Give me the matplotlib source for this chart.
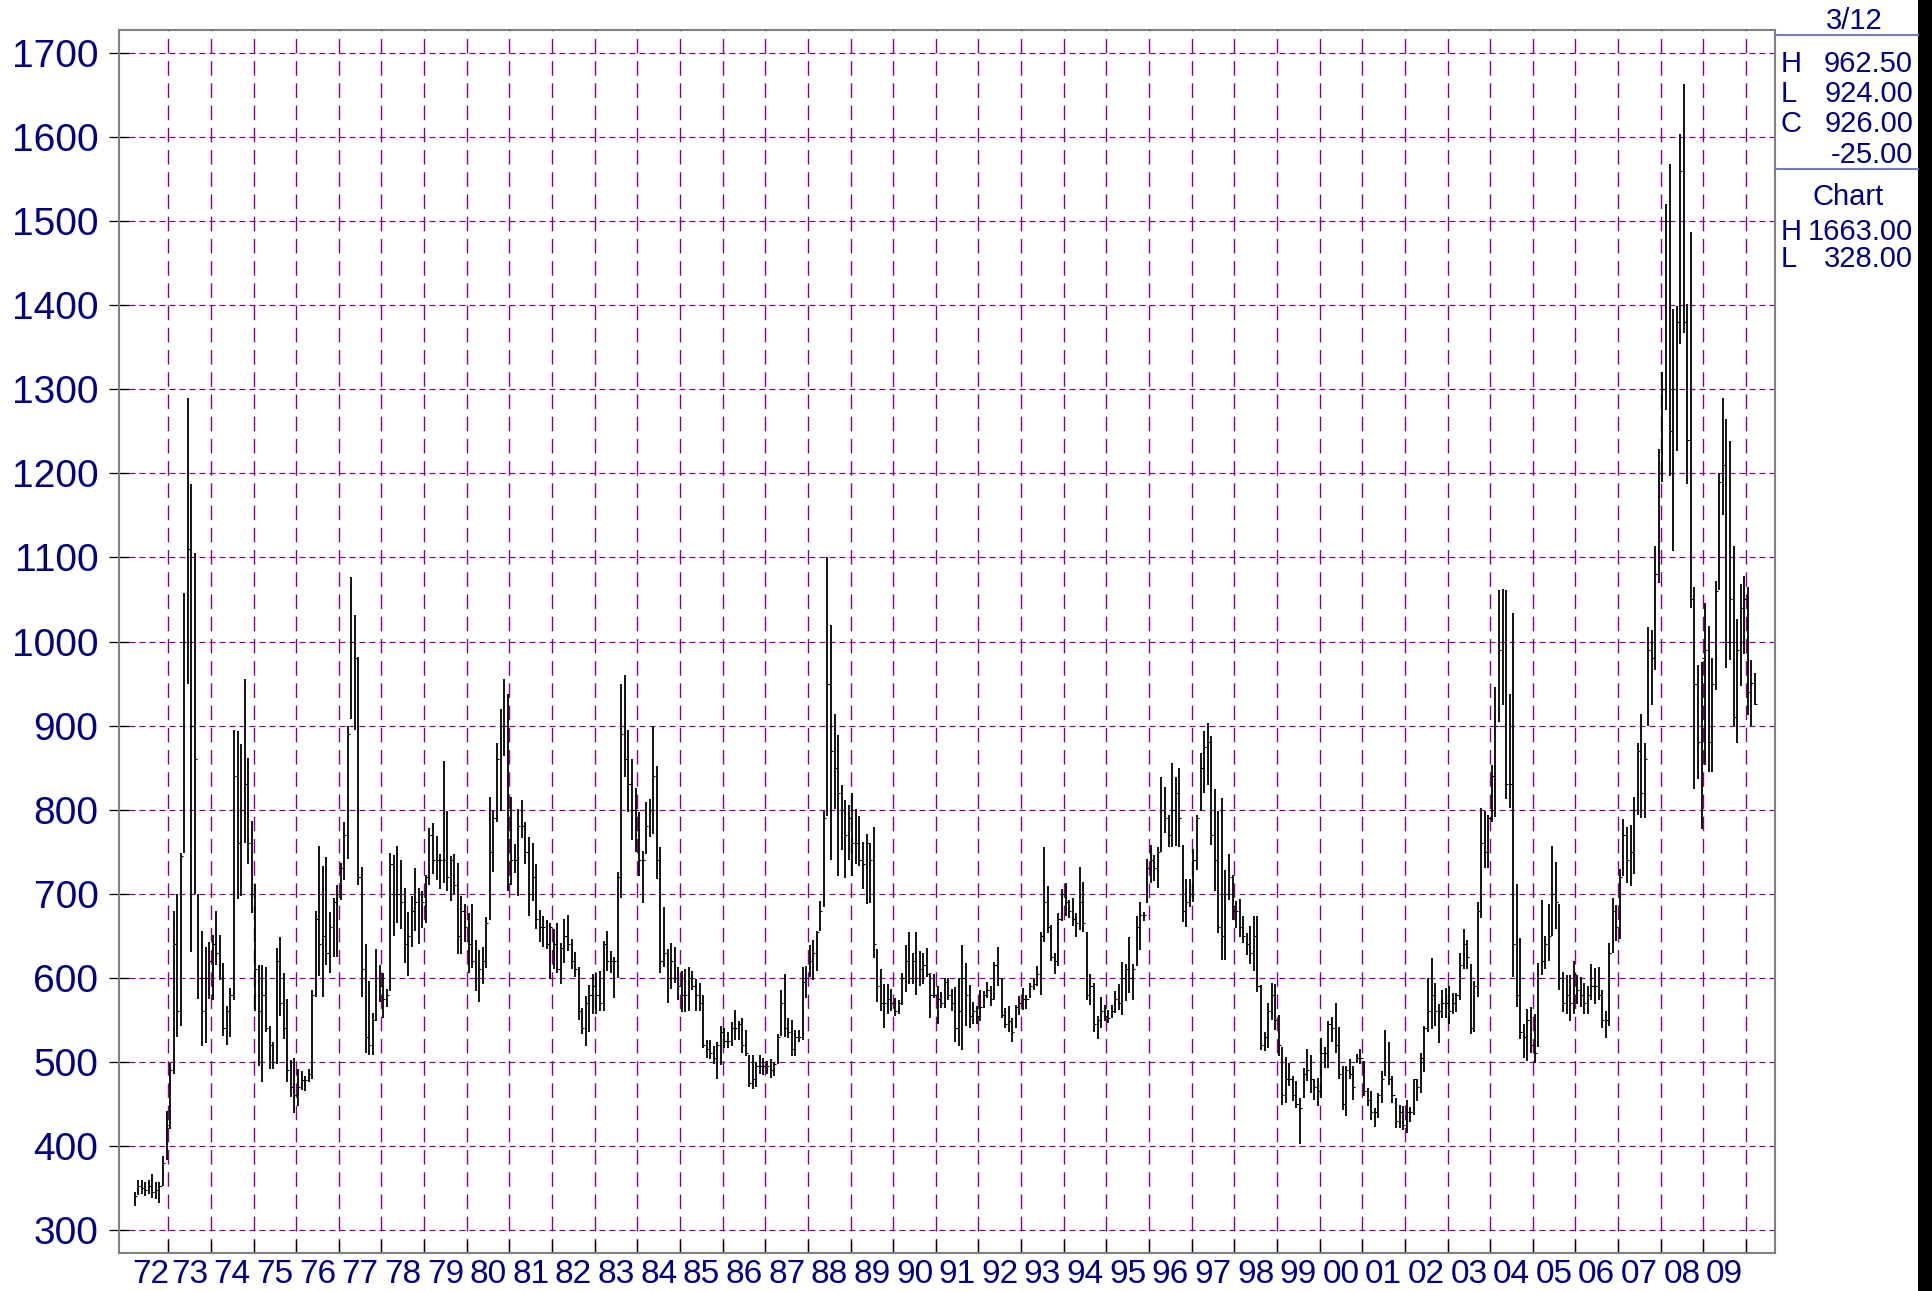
import pandas as pd
import matplotlib
matplotlib.use('Agg')
import matplotlib.pyplot as plt
from matplotlib.patches import Rectangle
from matplotlib.ticker import FixedLocator, FixedFormatter, NullFormatter

plt.rcParams['font.family'] = ['Liberation Sans', 'DejaVu Sans']
plt.rcParams['lines.scale_dashes'] = False

W, H, DPI = 1932, 1291, 100
NAVY = '#000080'
GRID = '#880088'

# Monthly soybean bars, Mar 1972 - Mar 2010, one row per year (cents/bu)
high = [
    345, 360, 359, 357, 359, 367, 357, 357, 388, 442,                      # 72 (Mar-Dec)
    499, 680, 700, 749, 1058, 1290, 1187, 1105, 700, 656, 637, 643,        # 73
    651, 679, 651, 617, 566, 588, 895, 893, 878, 955, 861, 787,            # 74
    711, 615, 615, 613, 543, 524, 635, 648, 606, 575, 502, 505,            # 75
    492, 489, 483, 492, 586, 679, 757, 733, 744, 678, 695, 710,            # 76
    736, 785, 899, 1077, 1031, 981, 732, 640, 596, 558, 634, 615,          # 77
    606, 587, 748, 746, 757, 740, 707, 678, 697, 730, 707, 703,            # 78
    722, 778, 784, 769, 747, 858, 798, 745, 747, 736, 697, 688,            # 79
    677, 688, 645, 633, 637, 672, 815, 798, 879, 920, 955, 938,            # 80
    815, 759, 801, 812, 785, 768, 760, 735, 681, 674, 669, 665,            # 81
    658, 665, 641, 670, 675, 646, 631, 613, 564, 578, 591, 604,            # 82
    606, 608, 644, 656, 632, 625, 726, 949, 960, 895, 860, 826,            # 83
    797, 751, 809, 813, 899, 852, 755, 684, 634, 641, 637, 613,            # 84
    608, 611, 613, 608, 599, 594, 580, 526, 526, 519, 524, 543,            # 85
    540, 536, 547, 562, 548, 552, 538, 508, 508, 500, 508, 505,            # 86
    501, 503, 500, 533, 585, 604, 552, 550, 538, 538, 613, 614,            # 87
    639, 645, 656, 691, 798, 1100, 1020, 914, 889, 829, 811, 805,          # 88
    820, 801, 792, 761, 771, 760, 779, 634, 611, 592, 592, 587,            # 89
    576, 573, 606, 639, 654, 630, 654, 632, 630, 636, 606, 604,            # 90
    590, 583, 600, 600, 587, 589, 600, 639, 617, 591, 571, 566,            # 91
    586, 584, 595, 590, 619, 637, 600, 564, 567, 552, 568, 578,            # 92
    588, 579, 594, 598, 614, 654, 755, 709, 663, 629, 677, 706,            # 93
    713, 693, 695, 677, 732, 714, 655, 604, 594, 555, 577, 568,            # 94
    562, 568, 584, 592, 619, 616, 648, 616, 673, 690, 678, 741,            # 95
    758, 746, 756, 839, 827, 794, 855, 839, 849, 758, 717, 717,            # 96
    753, 794, 867, 893, 903, 887, 824, 798, 814, 728, 747, 722,            # 97
    691, 694, 673, 653, 661, 673, 673, 591, 535, 570, 594, 592,            # 98
    556, 518, 506, 499, 483, 477, 457, 493, 515, 508, 479, 481,            # 99
    528, 518, 548, 553, 570, 542, 495, 495, 503, 495, 509, 515,            # 00
    501, 469, 465, 445, 463, 489, 538, 524, 483, 457, 449, 447,            # 01
    455, 446, 480, 480, 511, 543, 600, 624, 594, 569, 586, 588,            # 02
    590, 582, 582, 630, 658, 645, 616, 596, 690, 802, 798, 794,            # 03
    853, 946, 1061, 1063, 1061, 938, 1034, 711, 647, 545, 563, 565,        # 04
    557, 618, 692, 650, 688, 757, 738, 688, 607, 603, 603, 620,            # 05
    603, 601, 594, 590, 616, 612, 613, 586, 560, 641, 695, 687,            # 06
    729, 789, 779, 782, 815, 879, 914, 879, 1017, 1014, 1114, 1229,        # 07
    1320, 1521, 1568, 1396, 1399, 1604, 1663, 1402, 1487, 1065, 972, 976,  # 08
    1046, 1019, 980, 1072, 1201, 1290, 1265, 1239, 1114, 1027, 1068, 1078, # 09
    1065, 978, 962.5,                                                      # 10 (Jan-Mar)
]
low = [
    328, 341, 343, 340, 343, 338, 337, 332, 352, 383,
    420, 486, 530, 543, 749, 950, 631, 700, 575, 519, 522, 575,
    573, 615, 597, 531, 520, 530, 573, 694, 697, 760, 735, 677,
    561, 495, 476, 536, 492, 491, 498, 555, 527, 476, 458, 439,
    448, 467, 465, 476, 480, 577, 602, 577, 615, 606, 625, 625,
    692, 716, 741, 908, 895, 710, 577, 511, 508, 508, 549, 571,
    552, 565, 584, 650, 665, 658, 618, 602, 637, 656, 640, 659,
    665, 710, 723, 716, 706, 713, 703, 691, 700, 628, 628, 643,
    606, 612, 584, 571, 593, 612, 669, 726, 785, 798, 864, 703,
    710, 725, 697, 766, 735, 674, 691, 658, 643, 637, 634, 599,
    611, 606, 592, 618, 632, 611, 601, 550, 533, 519, 536, 557,
    557, 561, 561, 608, 606, 576, 600, 695, 839, 797, 764, 750,
    721, 689, 747, 768, 771, 717, 606, 613, 570, 587, 594, 573,
    559, 559, 561, 585, 561, 561, 516, 505, 503, 498, 479, 496,
    517, 517, 519, 526, 526, 510, 507, 470, 468, 470, 486, 484,
    486, 481, 483, 498, 531, 530, 528, 507, 507, 524, 526, 576,
    601, 597, 608, 656, 684, 792, 740, 801, 721, 752, 719, 740,
    721, 735, 733, 705, 688, 689, 624, 571, 561, 540, 557, 561,
    554, 557, 568, 583, 592, 592, 580, 590, 592, 601, 552, 576,
    545, 564, 564, 573, 561, 524, 519, 514, 543, 540, 545, 545,
    548, 564, 576, 566, 574, 590, 552, 540, 536, 524, 540, 556,
    562, 563, 576, 586, 590, 580, 642, 653, 620, 604, 614, 667,
    673, 671, 661, 649, 657, 655, 574, 568, 536, 527, 540, 548,
    546, 552, 558, 562, 556, 572, 582, 574, 614, 633, 667, 689,
    713, 715, 707, 750, 772, 756, 756, 757, 756, 666, 660, 684,
    690, 728, 798, 820, 829, 758, 703, 653, 621, 621, 692, 669,
    659, 649, 641, 627, 616, 608, 583, 514, 513, 516, 550, 538,
    507, 449, 451, 471, 453, 445, 402, 457, 477, 463, 455, 447,
    457, 493, 493, 524, 511, 479, 443, 435, 479, 455, 499, 497,
    459, 447, 431, 423, 433, 451, 483, 473, 451, 421, 421, 419,
    415, 429, 437, 454, 463, 488, 535, 539, 543, 522, 552, 552,
    545, 557, 559, 573, 611, 611, 533, 535, 577, 671, 730, 730,
    785, 791, 904, 925, 813, 802, 601, 565, 527, 505, 501, 510,
    499, 518, 603, 611, 620, 650, 658, 586, 559, 557, 549, 557,
    569, 565, 557, 557, 574, 569, 573, 540, 528, 543, 630, 644,
    646, 721, 713, 709, 723, 794, 790, 790, 900, 925, 966, 1069,
    1190, 1275, 1197, 1108, 1227, 1354, 1367, 1187, 1040, 825, 836, 777,
    853, 845, 845, 942, 1061, 1150, 969, 978, 900, 879, 947, 985,
    912, 900, 924,
]
close = [
    340, 352, 350, 348, 352, 345, 348, 352, 380, 425,
    490, 640, 560, 745, 1000, 1110, 900, 860, 600, 560, 600, 620,
    640, 630, 600, 540, 560, 580, 840, 760, 800, 830, 760, 700,
    610, 560, 580, 540, 520, 500, 620, 570, 540, 490, 470, 460,
    470, 478, 478, 485, 580, 670, 640, 650, 630, 660, 690, 700,
    730, 770, 890, 1000, 980, 720, 610, 530, 520, 550, 600, 590,
    575, 580, 735, 700, 700, 690, 640, 650, 680, 690, 700, 690,
    720, 770, 740, 740, 740, 740, 720, 740, 710, 650, 680, 660,
    640, 620, 600, 610, 620, 665, 750, 790, 860, 900, 900, 800,
    740, 740, 780, 780, 750, 700, 720, 670, 660, 660, 640, 660,
    640, 610, 635, 650, 640, 620, 610, 560, 540, 570, 580, 590,
    580, 570, 640, 620, 620, 620, 720, 890, 860, 830, 800, 800,
    740, 740, 780, 800, 840, 740, 620, 630, 600, 620, 600, 590,
    580, 580, 600, 590, 580, 570, 520, 515, 510, 505, 520, 535,
    525, 525, 540, 540, 545, 520, 510, 475, 480, 495, 495, 495,
    495, 490, 498, 530, 570, 540, 535, 515, 530, 530, 595, 600,
    620, 630, 655, 680, 790, 950, 870, 850, 820, 800, 770, 790,
    760, 760, 740, 735, 760, 740, 640, 590, 570, 570, 575, 570,
    560, 570, 600, 620, 600, 620, 600, 610, 615, 605, 580, 580,
    575, 570, 595, 580, 570, 540, 560, 600, 580, 555, 560, 555,
    565, 580, 585, 575, 615, 600, 556, 545, 548, 535, 565, 570,
    575, 575, 590, 592, 605, 650, 690, 660, 625, 620, 670, 700,
    690, 680, 670, 665, 690, 665, 580, 590, 545, 550, 560, 555,
    552, 560, 575, 570, 600, 610, 600, 610, 660, 675, 675, 730,
    740, 730, 750, 800, 790, 770, 800, 820, 790, 680, 690, 700,
    740, 790, 850, 875, 880, 770, 740, 660, 650, 700, 720, 680,
    680, 660, 650, 640, 630, 650, 590, 520, 530, 560, 580, 550,
    520, 460, 480, 480, 460, 450, 445, 485, 490, 480, 470, 465,
    510, 510, 545, 540, 520, 485, 450, 490, 485, 470, 505, 505,
    465, 455, 440, 440, 460, 480, 500, 480, 460, 430, 440, 425,
    440, 440, 480, 470, 505, 540, 560, 580, 560, 560, 570, 570,
    560, 570, 580, 615, 640, 625, 540, 590, 680, 760, 750, 790,
    840, 900, 990, 1000, 830, 830, 640, 580, 535, 530, 550, 520,
    510, 600, 620, 640, 650, 700, 690, 600, 570, 580, 570, 605,
    585, 580, 570, 580, 590, 590, 580, 550, 550, 630, 680, 660,
    720, 770, 740, 750, 800, 870, 820, 860, 990, 980, 1080, 1200,
    1300, 1500, 1250, 1300, 1380, 1560, 1380, 1240, 1050, 950, 880, 980,
    990, 880, 950, 1060, 1190, 1210, 1000, 1050, 910, 990, 1040, 1050,
    940, 951, 926,
]

months = pd.period_range('1972-03', '2010-03', freq='M')
price_ticks = list(range(300, 1800, 100))
year_starts = list(range(1973, 2011))
year_names = ['%02d' % (y % 100) for y in range(1972, 2010)]
last_date = '3/12'

assert len(high) == len(low) == len(close) == len(months)


def fx(px):
    return px / W


def fy(py):
    return 1 - py / H


fig = plt.figure(figsize=(W / DPI, H / DPI), dpi=DPI)
ax = fig.add_axes([fx(119), fy(1253), (1775 - 119) / W, (1253 - 30) / H])

# bar per month: high-low line plus close tick on the right
x = months.year + (months.month - 0.5) / 12
ax.vlines(x, low, high, color='black', lw=1.3, zorder=3)
ax.hlines(close, x, x + 0.05, color='black', lw=0.8, zorder=3)

ax.set_xlim(1971.844, 2010.68)
ax.set_ylim(272.6, 1727.4)

# dashed grid
for p in price_ticks:
    ax.axhline(p, color=GRID, lw=0.85, ls=(0, (4.3, 2.9)), zorder=1)
for yr in year_starts:
    ax.axvline(yr, color=GRID, lw=1.0, ls=(0, (10.5, 5.5)), zorder=1)

ax.set_yticks(price_ticks)
ax.set_yticklabels([str(p) for p in price_ticks])
ax.tick_params(axis='y', direction='inout', length=13.7, width=0.9,
               color='black', pad=8, labelsize=28, labelcolor=NAVY)

label_pos = [1972.6] + [y + 0.5 for y in range(1973, 2010)]
ax.xaxis.set_major_locator(FixedLocator(year_starts))
ax.xaxis.set_major_formatter(NullFormatter())
ax.xaxis.set_minor_locator(FixedLocator(label_pos))
ax.xaxis.set_minor_formatter(FixedFormatter(year_names))
ax.tick_params(axis='x', which='major', direction='in', length=9.4, width=0.9, color='black')
ax.tick_params(axis='x', which='minor', length=0, pad=4, labelsize=24, labelcolor=NAVY)

for s in ax.spines.values():
    s.set_color('#808080')
    s.set_linewidth(1.5)

# quote box on the right
fs = 21
fig.text(fx(1854), fy(29), last_date, ha='center', va='baseline', fontsize=fs, color=NAVY)
fig.add_artist(plt.Line2D([fx(1775), fx(1918)], [fy(35), fy(35)], color='#7878be', lw=1.5))
rows = [('H', '%.2f' % high[-1], 72), ('L', '%.2f' % low[-1], 102),
        ('C', '%.2f' % close[-1], 132), ('', '%.2f' % (close[-1] - close[-2]), 163)]
for key, val, yb in rows:
    fig.text(fx(1781), fy(yb), key, ha='left', va='baseline', fontsize=fs, color=NAVY)
    fig.text(fx(1913), fy(yb), val, ha='right', va='baseline', fontsize=fs, color=NAVY)
fig.add_artist(plt.Line2D([fx(1775), fx(1918)], [fy(169), fy(169)], color='#7878be', lw=1.5))
fig.text(fx(1848), fy(205), 'Chart', ha='center', va='baseline', fontsize=fs, color=NAVY)
for key, val, yb in [('H', '%.2f' % max(high), 240), ('L', '%.2f' % min(low), 267)]:
    fig.text(fx(1781), fy(yb), key, ha='left', va='baseline', fontsize=fs, color=NAVY)
    fig.text(fx(1913), fy(yb), val, ha='right', va='baseline', fontsize=fs, color=NAVY)

fig.add_artist(Rectangle((fx(1918), 0), 14 / W, 1, transform=fig.transFigure,
                         color='black', lw=0))

fig.savefig('out.png', dpi=DPI)
